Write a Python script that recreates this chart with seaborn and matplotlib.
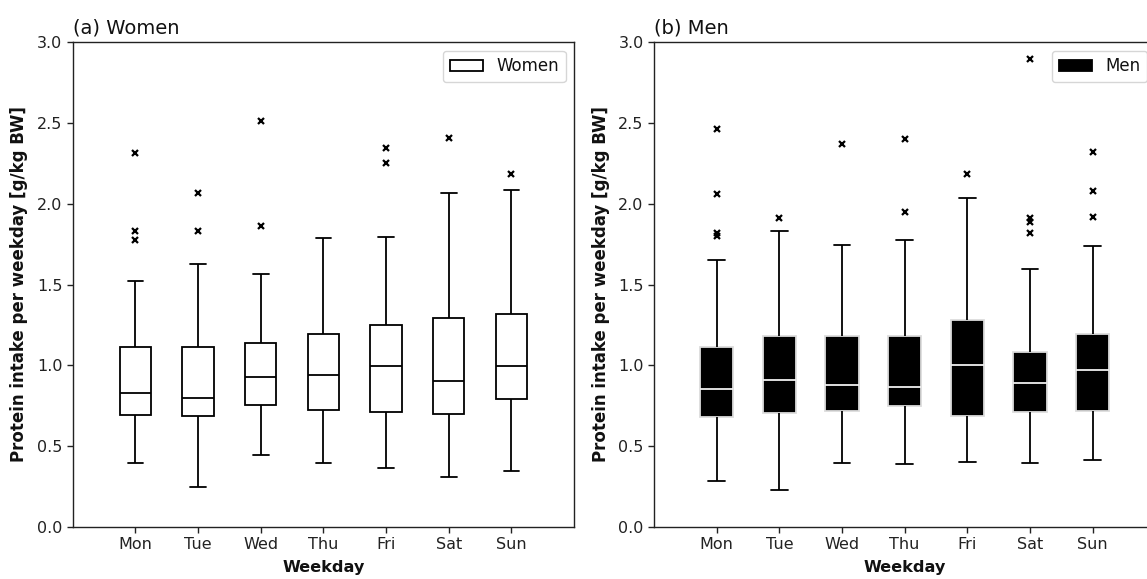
import numpy as np
import pandas as pd
import matplotlib
matplotlib.use("Agg")
import matplotlib.pyplot as plt
from matplotlib.patches import Patch
import seaborn as sns

days = ["Mon", "Tue", "Wed", "Thu", "Fri", "Sat", "Sun"]

# (a) Women - box summaries
women_low = [0.395, 0.244, 0.446, 0.395, 0.362, 0.310, 0.347]
women_q1 = [0.692, 0.686, 0.752, 0.721, 0.713, 0.698, 0.791]
women_med = [0.826, 0.798, 0.930, 0.938, 0.998, 0.901, 0.998]
women_q3 = [1.110, 1.110, 1.140, 1.192, 1.250, 1.293, 1.318]
women_high = [1.519, 1.627, 1.564, 1.789, 1.797, 2.064, 2.087]
women_out = [[1.774, 1.834, 2.317], [1.834, 2.064], [1.863, 2.511], [],
             [2.250, 2.348], [2.408], [2.182]]

# (b) Men - box summaries
men_low = [0.281, 0.229, 0.395, 0.386, 0.401, 0.395, 0.415]
men_q1 = [0.682, 0.702, 0.717, 0.748, 0.688, 0.711, 0.718]
men_med = [0.851, 0.909, 0.878, 0.864, 1.004, 0.893, 0.971]
men_q3 = [1.112, 1.183, 1.178, 1.184, 1.281, 1.083, 1.195]
men_high = [1.650, 1.834, 1.745, 1.774, 2.035, 1.598, 1.737]
men_out = [[1.799, 1.820, 2.058, 2.466], [1.912], [2.369], [1.946, 2.400],
           [2.182], [1.820, 1.890, 1.911, 2.896], [1.915, 2.081, 2.323]]


def expand(low, q1, med, q3, high, outs):
    """Build a sample whose linear-interpolated quartiles, whisker ends and
    fliers equal the given summary values (values repeated, none invented)."""
    rows = []
    for i, d in enumerate(days):
        h = len(outs[i])
        m = h + 2
        vals = ([low[i]] + [q1[i]] * m + [med[i]] * m + [q3[i]] * (m + 1)
                + [high[i]] + list(outs[i]))
        rows += [(d, v) for v in vals]
    return pd.DataFrame(rows, columns=["day", "value"])


df_w = expand(women_low, women_q1, women_med, women_q3, women_high, women_out)
df_m = expand(men_low, men_q1, men_med, men_q3, men_high, men_out)

sns.set_style("ticks", rc={"axes.edgecolor": "#222222", "xtick.color": "#222222",
                           "ytick.color": "#222222", "text.color": "#111111",
                           "axes.labelcolor": "#111111"})
plt.rcParams["font.family"] = ["DejaVu Sans"]

W, H = 1147, 579
fig = plt.figure(figsize=(W / 100, H / 100), dpi=100)
axw = fig.add_axes([72.7 / W, (H - 526.7) / H, 501.3 / W, 484.4 / H])
axm = fig.add_axes([654 / W, (H - 526.7) / H, 501.3 / W, 484.4 / H])

lw = 1.3
flier = dict(marker="x", markeredgewidth=1.6, markeredgecolor="black",
             markerfacecolor="black")

sns.boxplot(data=df_w, x="day", y="value", order=days, ax=axw, width=0.5,
            color="white", linecolor="black", linewidth=lw, fliersize=3.8,
            flierprops=flier)

sns.boxplot(data=df_m, x="day", y="value", order=days, ax=axm, width=0.53,
            color="black", linecolor="black", linewidth=lw, fliersize=3.8,
            flierprops=flier,
            boxprops=dict(facecolor="black", edgecolor="#dcdcdc"),
            medianprops=dict(color="#f0f0f0"),
            whiskerprops=dict(color="black"),
            capprops=dict(color="black"))

for ax, title, handle in [
    (axw, "(a) Women", Patch(facecolor="white", edgecolor="black", linewidth=lw, label="Women")),
    (axm, "(b) Men", Patch(facecolor="black", edgecolor="black", linewidth=lw, label="Men")),
]:
    ax.set_xlim(-1, 7)
    ax.set_ylim(0, 3)
    ax.set_yticks([0, 0.5, 1.0, 1.5, 2.0, 2.5, 3.0])
    ax.set_yticklabels(["0.0", "0.5", "1.0", "1.5", "2.0", "2.5", "3.0"])
    ax.tick_params(labelsize=11.5, length=4, width=1)
    ax.set_xlabel("Weekday", fontsize=11.6, fontweight="bold", labelpad=6)
    ax.set_ylabel("Protein intake per weekday [g/kg BW]", fontsize=12,
                  fontweight="bold", labelpad=6)
    ax.set_title(title, loc="left", fontsize=14, pad=6)
    for s in ax.spines.values():
        s.set_visible(True)
        s.set_linewidth(1.0)
    ax.legend(handles=[handle], loc="upper right", fontsize=12,
              handlelength=2.0, handleheight=0.7)

fig.savefig("out.png", dpi=100)
